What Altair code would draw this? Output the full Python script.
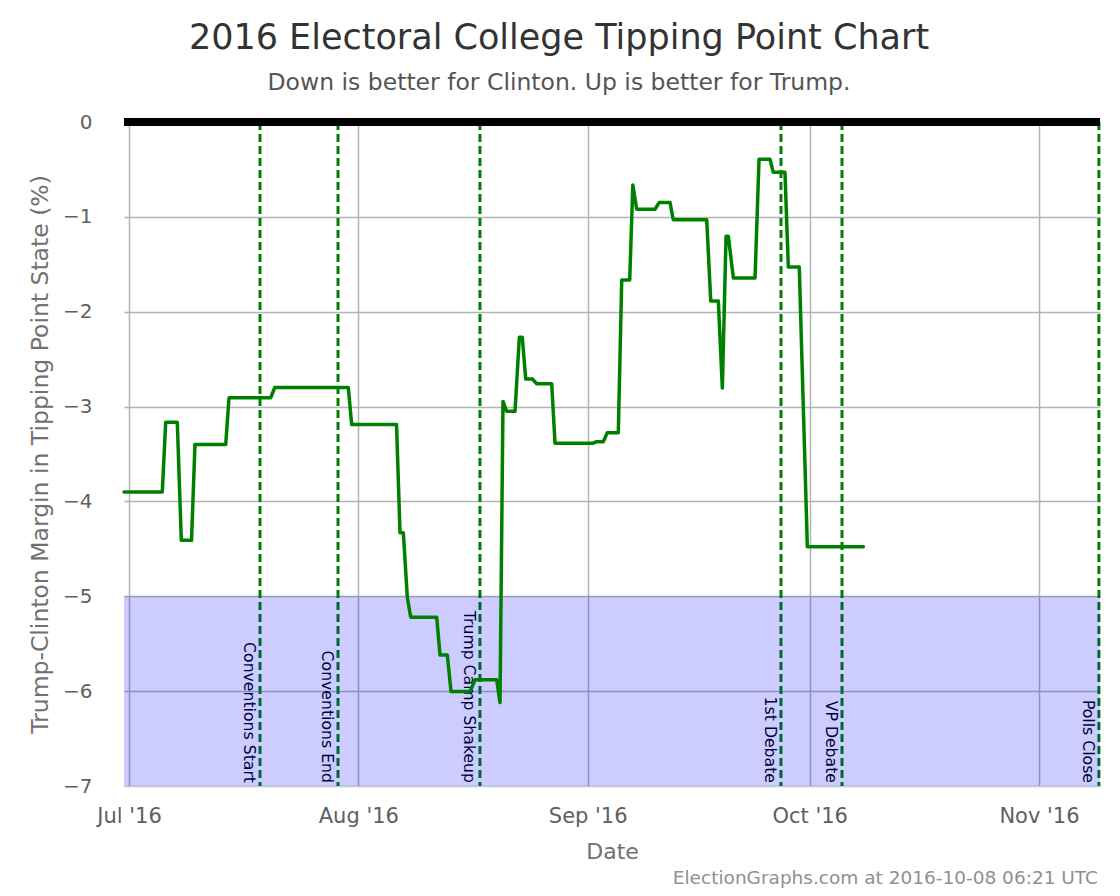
import altair as alt
import pandas as pd

# ---- data ----
line_dates = [
    "2016-06-30T07:45:00Z", "2016-07-05T12:00:00Z", "2016-07-05T23:00:00Z", "2016-07-07T12:40:00Z",
    "2016-07-08T01:40:00Z", "2016-07-09T10:50:00Z", "2016-07-09T22:00:00Z", "2016-07-14T01:40:00Z",
    "2016-07-14T12:25:00Z", "2016-07-20T03:40:00Z", "2016-07-20T16:35:00Z", "2016-07-30T15:25:00Z",
    "2016-07-31T02:25:00Z", "2016-08-06T03:50:00Z", "2016-08-06T15:10:00Z", "2016-08-07T01:55:00Z",
    "2016-08-07T14:50:00Z", "2016-08-08T01:55:00Z", "2016-08-11T14:10:00Z", "2016-08-12T01:00:00Z",
    "2016-08-13T00:40:00Z", "2016-08-13T12:40:00Z", "2016-08-16T02:15:00Z", "2016-08-16T18:30:00Z",
    "2016-08-19T16:50:00Z", "2016-08-20T03:35:00Z", "2016-08-20T13:15:00Z", "2016-08-21T01:15:00Z",
    "2016-08-22T04:15:00Z", "2016-08-22T18:15:00Z", "2016-08-23T03:55:00Z", "2016-08-23T14:55:00Z",
    "2016-08-24T12:25:00Z", "2016-08-25T02:40:00Z", "2016-08-27T03:20:00Z", "2016-08-27T14:00:00Z",
    "2016-09-01T18:15:00Z", "2016-09-02T05:15:00Z", "2016-09-03T02:40:00Z", "2016-09-03T15:35:00Z",
    "2016-09-05T03:20:00Z", "2016-09-05T14:25:00Z", "2016-09-06T16:20:00Z", "2016-09-07T02:25:00Z",
    "2016-09-07T15:05:00Z", "2016-09-10T02:25:00Z", "2016-09-10T16:20:00Z", "2016-09-12T03:05:00Z",
    "2016-09-12T13:40:00Z", "2016-09-17T02:10:00Z", "2016-09-17T15:10:00Z", "2016-09-18T15:50:00Z",
    "2016-09-19T04:50:00Z", "2016-09-19T16:50:00Z", "2016-09-20T00:15:00Z", "2016-09-20T16:35:00Z",
    "2016-09-23T14:55:00Z", "2016-09-24T03:50:00Z", "2016-09-25T15:35:00Z", "2016-09-26T02:10:00Z",
    "2016-09-27T16:05:00Z", "2016-09-28T02:50:00Z", "2016-09-29T14:25:00Z", "2016-09-30T16:35:00Z",
    "2016-10-08T06:21:00Z",
]
line_values = [
    -3.90, -3.90, -3.165, -3.165,
    -4.41, -4.41, -3.40, -3.40,
    -2.907, -2.907, -2.80, -2.80,
    -3.19, -3.19, -4.33, -4.33,
    -5.01, -5.22, -5.22, -5.62,
    -5.62, -6.005, -6.005, -5.88,
    -5.88, -6.12, -2.946, -3.05,
    -3.05, -2.27, -2.27, -2.71,
    -2.71, -2.76, -2.76, -3.386,
    -3.386, -3.37, -3.37, -3.275,
    -3.275, -1.665, -1.665, -0.665,
    -0.92, -0.92, -0.848, -0.848,
    -1.03, -1.03, -1.887, -1.887,
    -2.805, -1.204, -1.204, -1.644,
    -1.644, -0.394, -0.394, -0.531,
    -0.531, -1.528, -1.528, -4.477,
    -4.477,
]

event_names = ["Conventions Start", "Conventions End", "Trump Camp Shakeup",
               "1st Debate", "VP Debate", "Polls Close"]
event_dates = ["2016-07-18T17:00:00Z", "2016-07-29T06:00:00Z", "2016-08-17T10:30:00Z",
               "2016-09-27T03:00:00Z", "2016-10-05T09:00:00Z", "2016-11-09T02:30:00Z"]

band_top = [-5]
band_bottom = [-7]
zero_value = [0]
y_ticks = [0, -1, -2, -3, -4, -5, -6, -7]
x_tick_months = [7, 8, 9, 10, 11]

title_text = "2016 Electoral College Tipping Point Chart"
subtitle_text = "Down is better for Clinton. Up is better for Trump."
credit_text = "ElectionGraphs.com at 2016-10-08 06:21 UTC"

# ---- tables ----
line_df = pd.DataFrame({"date": line_dates, "margin": line_values})
event_df = pd.DataFrame({"date": event_dates, "name": event_names, "bottom": [-7] * len(event_names)})
band_df = pd.DataFrame({"top": band_top, "bottom": band_bottom})
zero_df = pd.DataFrame({"v": zero_value})
credit_df = pd.DataFrame({"t": [credit_text]})

FONT = "DejaVu Sans"

x_scale = alt.Scale(
    type="utc",
    domain=[alt.DateTime(year=2016, month=6, date=30, hours=7, minutes=45, utc=True),
            alt.DateTime(year=2016, month=11, date=9, hours=6, utc=True)],
)
y_scale = alt.Scale(domain=[-7, 0], nice=False, zero=False)

x_axis = alt.Axis(
    title="Date",
    labelExpr="utcFormat(datum.value, \"%b '%y\")",
    values=[alt.DateTime(year=2016, month=m, date=1, utc=True) for m in x_tick_months],
    grid=True,
    gridColor="#b3b3b3",
    gridWidth=1.5,
    ticks=False,
    domain=True,
    domainColor="#C0D0E0",
    domainWidth=1,
    labelFontSize=21,
    labelColor="#606060",
    labelFont=FONT,
    labelPadding=19,
    titleFontSize=22,
    titleColor="#707070",
    titleFont=FONT,
    titleFontWeight="normal",
    titlePadding=15,
)
y_axis = alt.Axis(
    title="Trump-Clinton Margin in Tipping Point State (%)",
    values=y_ticks,
    format="d",
    grid=True,
    gridColor="#b3b3b3",
    gridWidth=1.5,
    ticks=False,
    domain=False,
    labelFontSize=20,
    labelColor="#606060",
    labelFont=FONT,
    labelPadding=32,
    titleFontSize=23.5,
    titleColor="#707070",
    titleFont=FONT,
    titleFontWeight="normal",
    titlePadding=10,
)

X = lambda f: alt.X(f, scale=x_scale, axis=x_axis)
Y = lambda f: alt.Y(f, scale=y_scale, axis=y_axis)

event_rules = alt.Chart(event_df).mark_rule(
    color="#008000", strokeWidth=3, strokeDash=[8, 4]
).encode(x=X("date:T"))

event_labels = alt.Chart(event_df).mark_text(
    angle=90, align="right", baseline="top", dx=-3, dy=4,
    fontSize=15.7, font=FONT, color="#000000"
).encode(
    x=X("date:T"),
    y=Y("bottom:Q"),
    text="name:N",
)

band = alt.Chart(band_df).mark_rect(color="#0000ff", opacity=0.2).encode(
    y=Y("top:Q"),
    y2="bottom:Q",
)

zero_line = alt.Chart(zero_df).mark_rule(color="#000000", strokeWidth=8).encode(
    y=Y("v:Q")
)

data_line = alt.Chart(line_df).mark_line(
    color="#008000", strokeWidth=3.5, strokeJoin="round", strokeCap="round"
).encode(
    x=X("date:T"),
    y=Y("margin:Q"),
)

credit = alt.Chart(credit_df).mark_text(
    align="right", baseline="alphabetic", fontSize=18.5, font=FONT, color="#909090"
).encode(x=alt.value(974), y=alt.value(762), text="t:N")

chart = alt.layer(
    event_rules, event_labels, band, zero_line, data_line, credit
).properties(
    width=976,
    height=664,
    autosize=alt.AutoSizeParams(type="none"),
    padding={"left": 116, "top": 114, "right": 4, "bottom": 106},
    title=alt.TitleParams(
        text=title_text,
        subtitle=subtitle_text,
        font=FONT,
        subtitleFont=FONT,
        fontSize=35,
        subtitleFontSize=23.5,
        fontWeight="normal",
        color="#333333",
        subtitleColor="#555555",
        anchor="middle",
        dx=-53,
        offset=18,
        subtitlePadding=15,
    ),
).configure_view(stroke=None)

chart.save("out.html", embed_options={"renderer": "svg", "actions": False})
